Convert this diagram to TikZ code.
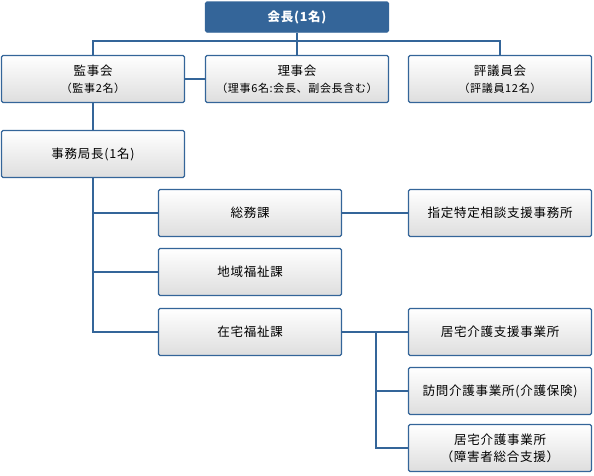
\documentclass[tikz,border=0pt]{standalone}
\usepackage{fontspec}
\setmainfont{Noto Sans CJK JP}[LetterSpace=6]
\definecolor{orgblue}{RGB}{52,101,153}
\newcommand{\subline}{\fontsize{11}{13}\selectfont}
\begin{document}
\begin{tikzpicture}[x=1pt,y=-1pt]
\tikzset{unit/.style={draw=orgblue,line width=1.3pt,rounded corners=1.5pt,
                      top color=white,bottom color=black!13,
                      minimum width=183pt,minimum height=47pt,inner sep=1pt,
                      align=center,font=\fontsize{12.5}{17}\selectfont},
         head/.style={unit,fill=orgblue,top color=orgblue,bottom color=orgblue,
                      minimum height=30pt,text=white,font=\fontsize{12.5}{15}\selectfont\bfseries},
         link/.style={draw=orgblue,line width=1.6pt}}
\useasboundingbox (0,0) rectangle (594,475);

% chairman and the three councils
\node[head] (kaicho) at (297,17) {会長(1名)};
\node[unit] (kanji) at (93,79) {監事会\\{\subline （監事2名）}};
\node[unit] (riji) at (297,79) {理事会\\{\subline （理事6名:会長、副会長含む）}};
\node[unit] (hyogi) at (500,79) {評議員会\\{\subline （評議員12名）}};

% secretariat
\node[unit] (jimu) at (93,154) {事務局長(1名)};

% sections
\foreach \n/\y/\t in {somu/213/総務課, chiiki/272/地域福祉課, zaitaku/332/在宅福祉課}
    \node[unit] (\n) at (250,\y) {\t};

% offices
\foreach \n/\y/\t in {shitei/213/指定特定相談支援事務所, kyotaku/332/居宅介護支援事業所,
                     houmon/391/訪問介護事業所(介護保険), shogai/448/{居宅介護事業所\\（障害者総合支援）}}
    \node[unit] (\n) at (500,\y) {\t};

% connectors
\draw[link] (kaicho.south) -- (riji.north);
\draw[link] (kanji.north) -- ++(0,-14) -| (hyogi.north);
\draw[link] (kanji.east) -- (riji.west);
\draw[link] (kanji.south) -- (jimu.north);
\draw[link] (jimu.south) |- (zaitaku.west);
\foreach \n in {somu,chiiki}
    \draw[link] (jimu.south |- \n.west) -- (\n.west);
\draw[link] (somu.east) -- (shitei.west);
\draw[link] (zaitaku.east) -- (kyotaku.west);
\coordinate (fork) at (376,332);
\draw[link] (fork) |- (shogai.west);
\draw[link] (fork |- houmon.west) -- (houmon.west);
\end{tikzpicture}
\end{document}
